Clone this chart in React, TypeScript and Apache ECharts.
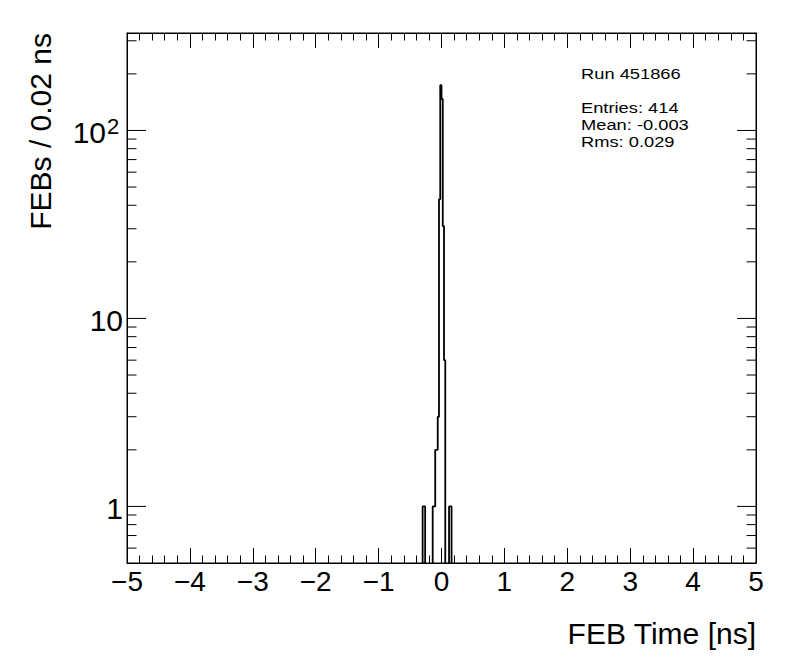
import React, { useEffect, useRef } from "react";
import * as echarts from "echarts";

// Histogram: FEB time, bins of 0.02 ns (only the populated region listed; all other bins are 0)
const binStart = -0.32;
const binWidth = 0.02;
const counts = [0, 1, 1, 0, 0, 0, 0, 0, 0, 1, 1, 2, 2, 3, 43, 174, 147, 31, 6, 0, 0, 0, 1, 1, 0];

const xMin = -5;
const xMax = 5;
const yMin = 0.5;
const yMax = 330;

const yMajorTicks = [1, 10, 100];
const yMajorLabels = ["1", "10", "10"];
const yMajorExponents = ["", "", "2"];
const yMinorTicks = [0.6, 0.7, 0.8, 0.9, 2, 3, 4, 5, 6, 7, 8, 9, 20, 30, 40, 50, 60, 70, 80, 90, 200, 300];

const statsLines = ["Run 451866", "", "Entries: 414", "Mean: -0.003", "Rms: 0.029"];
const xTitle = "FEB Time [ns]";
const yTitle = "FEBs / 0.02 ns";

const FONT = "'Liberation Sans', Arial, Helvetica, sans-serif";
const ZERO_FLOOR = 0.01; // below the log axis minimum, clipped away

export default function App() {
  const ref = useRef<HTMLDivElement>(null);

  useEffect(() => {
    if (!ref.current) return;
    const chart = echarts.init(ref.current, null, { renderer: "svg" });

    const histData: number[][] = counts.map((c, i) => [binStart + i * binWidth, c > 0 ? c : ZERO_FLOOR]);
    const last = counts[counts.length - 1];
    histData.push([binStart + counts.length * binWidth, last > 0 ? last : ZERO_FLOOR]);

    const tickData = [
      ...yMajorTicks.map((v) => [xMin, v, 19]),
      ...yMinorTicks.map((v) => [xMin, v, 9.5]),
    ];
    const labelData = yMajorTicks.map((v) => [xMin, v]);

    const xAxisBase = {
      type: "value",
      min: xMin,
      max: xMax,
      interval: 1,
      axisLine: { show: true, onZero: false, lineStyle: { color: "#000", width: 1 } },
      axisTick: { show: true, inside: true, length: 15, lineStyle: { color: "#000", width: 1 } },
      minorTick: { show: true, splitNumber: 5, length: 7.5, lineStyle: { color: "#000", width: 1 } },
      splitLine: { show: false },
      minorSplitLine: { show: false },
    };

    const yAxisBase = {
      type: "log",
      logBase: 10,
      min: yMin,
      max: yMax,
      axisLine: { show: true, onZero: false, lineStyle: { color: "#000", width: 1 } },
      axisTick: { show: false },
      minorTick: { show: false },
      axisLabel: { show: false },
      splitLine: { show: false },
      minorSplitLine: { show: false },
    };

    const option: any = {
      animation: false,
      grid: { left: 127, top: 33, width: 629, height: 530, show: false },
      xAxis: [
        {
          ...xAxisBase,
          position: "bottom",
          axisLabel: {
            show: true,
            margin: 4,
            fontSize: 28,
            fontFamily: FONT,
            color: "#000",
            formatter: (v: number) => (v < 0 ? "\u2212" + Math.abs(v) : String(v)),
          },
        },
        { ...xAxisBase, position: "top", axisLabel: { show: false } },
      ],
      yAxis: [
        { ...yAxisBase, position: "left" },
        { ...yAxisBase, position: "right" },
      ],
      series: [
        {
          type: "line",
          step: "end",
          data: histData,
          xAxisIndex: 0,
          yAxisIndex: 0,
          symbol: "none",
          clip: true,
          silent: true,
          lineStyle: { color: "#000", width: 1.8 },
        },
        {
          type: "custom",
          xAxisIndex: 0,
          yAxisIndex: 0,
          silent: true,
          data: tickData,
          encode: { x: 0, y: 1 },
          renderItem: (params: any, api: any) => {
            const v = api.value(1);
            const len = api.value(2);
            const l = api.coord([xMin, v]);
            const r = api.coord([xMax, v]);
            return {
              type: "group",
              children: [
                { type: "line", shape: { x1: l[0], y1: l[1], x2: l[0] + len, y2: l[1] }, style: { stroke: "#000", lineWidth: 1 } },
                { type: "line", shape: { x1: r[0] - len, y1: r[1], x2: r[0], y2: r[1] }, style: { stroke: "#000", lineWidth: 1 } },
              ],
            };
          },
        },
        {
          type: "custom",
          xAxisIndex: 0,
          yAxisIndex: 0,
          silent: true,
          data: labelData,
          encode: { x: 0, y: 1 },
          renderItem: (params: any, api: any) => {
            const i = params.dataIndex;
            const v = api.value(1);
            const p = api.coord([xMin, v]);
            const exp = yMajorExponents[i];
            const mainRight = exp ? p[0] - 21 : p[0] - 4;
            const children: any[] = [
              {
                type: "text",
                x: mainRight,
                y: p[1] + 2,
                style: { text: yMajorLabels[i], font: `30px ${FONT}`, fill: "#000", align: "right", verticalAlign: "middle" },
              },
            ];
            if (exp) {
              children.push({
                type: "text",
                x: mainRight + 1,
                y: p[1] - 4,
                style: { text: exp, font: `22px ${FONT}`, fill: "#000", align: "left", verticalAlign: "middle" },
              });
            }
            return { type: "group", children };
          },
        },
      ],
      graphic: [
        {
          type: "text",
          x: 756,
          y: 633,
          style: { text: xTitle, font: `30px ${FONT}`, fill: "#000", align: "right", verticalAlign: "middle" },
        },
        {
          type: "text",
          x: 40,
          y: 33,
          rotation: Math.PI / 2,
          style: { text: yTitle, font: `30px ${FONT}`, fill: "#000", align: "right", verticalAlign: "middle" },
        },
        ...statsLines.map((t, i) => ({
          type: "text",
          x: 581,
          y: 74 + 17 * i,
          scaleX: 1.22,
          style: {
            text: t,
            font: `15px ${FONT}`,
            lineHeight: 15,
            fill: "#000",
            align: "left",
            verticalAlign: "middle",
          },
        })),
        {
          type: "rect",
          shape: { x: 127, y: 33, width: 629, height: 530 },
          style: { fill: "none", stroke: "#000", lineWidth: 1 },
          silent: true,
        },
      ],
    };

    chart.setOption(option);
    return () => chart.dispose();
  }, []);

  return (
    <div
      ref={ref}
      style={{ position: "fixed", left: 0, top: 0, width: 796, height: 672, background: "#fff" }}
    />
  );
}
